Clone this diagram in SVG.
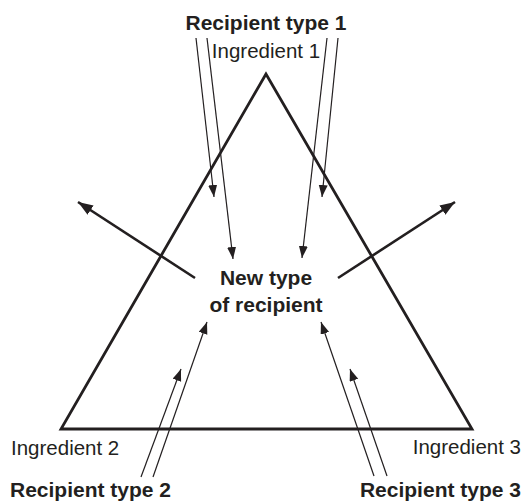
<svg xmlns="http://www.w3.org/2000/svg" width="525" height="502" viewBox="0 0 525 502">
<defs>
<style>
.thin{stroke:#231f20;stroke-width:1.2;fill:none;marker-end:url(#ah)}
.thick{stroke:#231f20;stroke-width:2.6;fill:none;marker-end:url(#ahb)}
.b{font-family:"Liberation Sans",Arial,sans-serif;font-weight:bold;font-size:21px;fill:#231f20}
.r{font-family:"Liberation Sans",Arial,sans-serif;font-size:20.5px;fill:#231f20}
</style>
<marker id="ah" markerUnits="userSpaceOnUse" markerWidth="13" markerHeight="10" refX="12" refY="4.5" orient="auto"><path d="M0,0 L12,4.5 L0,9 z" fill="#231f20"/></marker>
<marker id="ahb" markerUnits="userSpaceOnUse" markerWidth="16" markerHeight="12" refX="15" refY="5.5" orient="auto"><path d="M0,0 L15,5.5 L0,11 z" fill="#231f20"/></marker>
</defs>
<rect width="525" height="502" fill="#fff"/>
<g id="triangle"><polygon points="266,74 61,429 472,429" fill="none" stroke="#231f20" stroke-width="2.8"/></g>
<g id="connectors">
<path class="thin" d="M196,38 L214,197"/>
<path class="thin" d="M207,38 L233,259"/>
<path class="thin" d="M327,38 L302,258"/>
<path class="thin" d="M338,38 L322,197"/>
<path class="thin" d="M141,477 L181,369"/>
<path class="thin" d="M153,477 L207,322"/>
<path class="thin" d="M374,476 L321,322"/>
<path class="thin" d="M387,476 L350,369"/>
<path class="thick" d="M195,278 L78,202"/>
<path class="thick" d="M338,278 L455,202"/>
</g>
<g id="recipient1"><text class="b" x="266" y="30" text-anchor="middle">Recipient type 1</text></g>
<g id="ingredient1"><text class="r" x="266" y="58" text-anchor="middle">Ingredient 1</text></g>
<g id="ingredient2"><text class="r" x="11" y="455">Ingredient 2</text></g>
<g id="ingredient3"><text class="r" x="521" y="454" text-anchor="end">Ingredient 3</text></g>
<g id="recipient2"><text class="b" x="10" y="497">Recipient type 2</text></g>
<g id="recipient3"><text class="b" x="521" y="497" text-anchor="end">Recipient type 3</text></g>
<g id="newtype"><text class="b" x="266" y="285" text-anchor="middle">New type</text><text class="b" x="266" y="312" text-anchor="middle">of recipient</text></g>
</svg>
